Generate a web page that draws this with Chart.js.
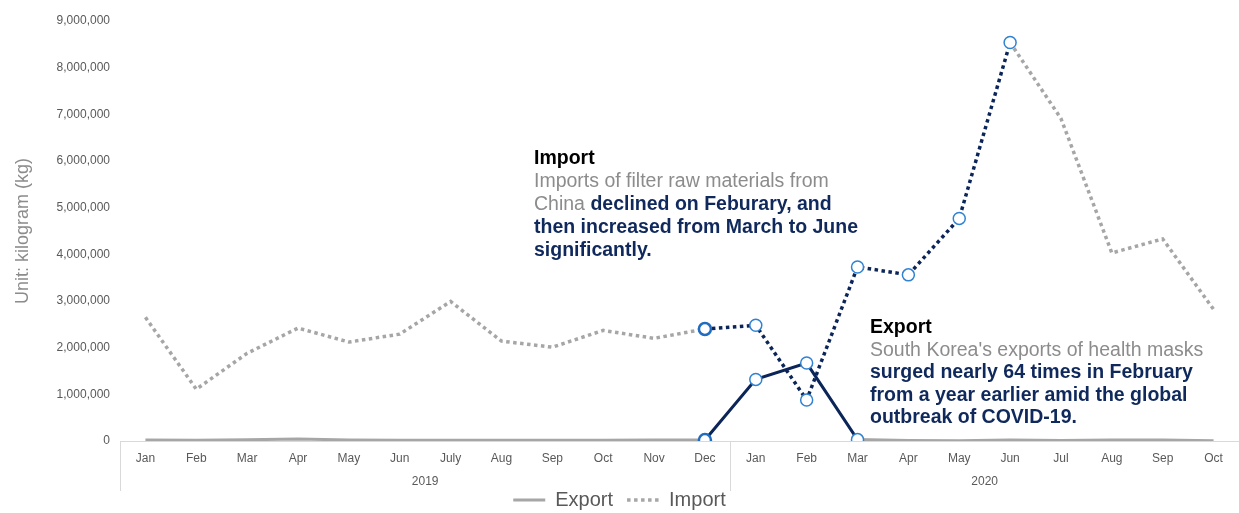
<!DOCTYPE html>
<html>
<head>
<meta charset="utf-8">
<script src="https://cdn.jsdelivr.net/npm/chart.js@4.4.1/dist/chart.umd.min.js"></script>
<style>
  html, body { margin: 0; padding: 0; background: #ffffff; }
  #wrap { position: relative; width: 1239px; height: 513px; }
  .note { position: absolute; font-family: "Liberation Sans", Arial, sans-serif; font-size: 19.5px; line-height: 23px; color: #8c8c8c; white-space: nowrap; }
  .note b { color: #10295c; }
  .note .head { color: #000000; font-weight: bold; }
</style>
</head>
<body>
<div id="wrap">
  <canvas id="chart" width="1239" height="513"></canvas>
  <div class="note" style="left:534px; top:146px;">
    <div class="head">Import</div>
    <div>Imports of filter raw materials from</div>
    <div>China <b>declined on Feburary, and</b></div>
    <div><b>then increased from March to June</b></div>
    <div><b>significantly.</b></div>
  </div>
  <div class="note" style="left:870px; top:315px; line-height:22.5px;">
    <div class="head">Export</div>
    <div>South Korea's exports of health masks</div>
    <div><b>surged nearly 64 times in February</b></div>
    <div><b>from a year earlier amid the global</b></div>
    <div><b>outbreak of COVID-19.</b></div>
  </div>
</div>
<script>
// 월 라벨 (2019 Jan ~ 2020 Oct)
const months = ["Jan", "Feb", "Mar", "Apr", "May", "Jun", "July", "Aug", "Sep", "Oct", "Nov", "Dec",
                "Jan", "Feb", "Mar", "Apr", "May", "Jun", "Jul", "Aug", "Sep", "Oct"];
const years = ["2019", "2020"];
const yearStart = [0, 12];
const yearEnd = [11, 21];

// 값 (kg)
const exportValues = [20000, 15000, 25000, 45000, 20000, 15000, 15000, 15000, 15000, 15000, 20000, 20000,
                      1320000, 1670000, 30000, 10000, 5000, 20000, 10000, 20000, 20000, 5000];
const importValues = [2650000, 1110000, 1880000, 2420000, 2120000, 2290000, 2990000, 2140000, 2010000, 2370000, 2200000, 2400000,
                      2480000, 880000, 3730000, 3560000, 4770000, 8540000, 6910000, 4030000, 4330000, 2820000];

// 강조 구간 (데이터 인덱스)
const exportHighlight = [11, 14];
const importHighlight = [11, 17];

const grey = "#a6a6a6";
const navy = "#0b2559";
const markerBlue = "#3083d2";

const inRange = (i, r) => i >= r[0] && i <= r[1];

// 연도 라벨 + 구분선
const yearPlugin = {
  id: "yearPlugin",
  afterDraw(chart) {
    const { ctx, chartArea, scales } = chart;
    const x = scales.x;
    const half = (x.getPixelForValue(1) - x.getPixelForValue(0)) / 2;
    ctx.save();
    ctx.strokeStyle = "#d9d9d9";
    ctx.lineWidth = 1;
    const seps = [x.getPixelForValue(0) - half, x.getPixelForValue(11) + half];
    seps.forEach(px => {
      ctx.beginPath();
      ctx.moveTo(Math.round(px) + 0.5, chartArea.bottom);
      ctx.lineTo(Math.round(px) + 0.5, chartArea.bottom + 50);
      ctx.stroke();
    });
    ctx.fillStyle = "#595959";
    ctx.font = "12px 'Liberation Sans', Arial, sans-serif";
    ctx.textAlign = "center";
    ctx.textBaseline = "middle";
    years.forEach((y, k) => {
      const cx = (x.getPixelForValue(yearStart[k]) + x.getPixelForValue(yearEnd[k])) / 2;
      ctx.fillText(y, cx, chartArea.bottom + 41);
    });
    ctx.restore();
  }
};

new Chart(document.getElementById("chart"), {
  type: "line",
  data: {
    labels: months,
    datasets: [
      {
        label: "Export",
        data: exportValues,
        borderColor: grey,
        borderWidth: 3,
        segment: {
          borderColor: c => (c.p0DataIndex >= exportHighlight[0] && c.p0DataIndex < exportHighlight[1]) ? navy : grey
        },
        pointRadius: months.map((m, i) => inRange(i, exportHighlight) ? 6 : 0),
        pointBackgroundColor: "#ffffff",
        pointBorderColor: months.map((m, i) => i === 11 ? "#1f6cc0" : markerBlue),
        pointBorderWidth: months.map((m, i) => i === 11 ? 2.5 : 1.5),
        pointHoverRadius: 0,
        tension: 0
      },
      {
        label: "Import",
        data: importValues,
        borderColor: grey,
        borderWidth: 3.5,
        borderDash: [3.5, 3.5],
        segment: {
          borderColor: c => (c.p0DataIndex >= importHighlight[0] && c.p0DataIndex < importHighlight[1]) ? navy : grey
        },
        pointRadius: months.map((m, i) => inRange(i, importHighlight) ? 6 : 0),
        pointBackgroundColor: "#ffffff",
        pointBorderColor: months.map((m, i) => i === 11 ? "#1f6cc0" : markerBlue),
        pointBorderWidth: months.map((m, i) => i === 11 ? 2.5 : 1.5),
        pointHoverRadius: 0,
        tension: 0
      }
    ]
  },
  options: {
    responsive: false,
    animation: false,
    layout: { padding: { top: 21, right: 0, left: 0, bottom: -7 } },
    plugins: {
      tooltip: { enabled: false },
      legend: {
        position: "bottom",
        labels: {
          usePointStyle: true,
          pointStyle: "line",
          pointStyleWidth: 32,
          padding: 14,
          color: "#595959",
          font: { family: "'Liberation Sans', Arial, sans-serif", size: 20 },
          generateLabels: chart => chart.data.datasets.map((d, i) => ({
            text: d.label,
            fillStyle: "rgba(0,0,0,0)",
            strokeStyle: grey,
            lineWidth: d.borderWidth,
            lineDash: d.borderDash || [],
            pointStyle: "line",
            fontColor: "#595959",
            hidden: false,
            datasetIndex: i
          }))
        }
      }
    },
    scales: {
      x: {
        offset: true,
        grid: { display: false, drawTicks: false },
        border: { display: true, color: "#d9d9d9" },
        ticks: {
          color: "#595959",
          padding: 10,
          maxRotation: 0,
          autoSkip: false,
          font: { family: "'Liberation Sans', Arial, sans-serif", size: 12 }
        },
        afterFit: s => { s.height = 35; }
      },
      y: {
        min: 0,
        max: 9000000,
        grid: { display: false, drawTicks: false },
        border: { display: false },
        ticks: {
          stepSize: 1000000,
          color: "#595959",
          padding: 10,
          font: { family: "'Liberation Sans', Arial, sans-serif", size: 12 },
          callback: v => v.toLocaleString("en-US")
        },
        title: {
          display: true,
          text: "Unit: kilogram (kg)",
          color: "#8c8c8c",
          padding: { top: 12, bottom: 0 },
          font: { family: "'Liberation Sans', Arial, sans-serif", size: 18 }
        },
        afterFit: s => { s.width = 120; }
      }
    }
  },
  plugins: [yearPlugin]
});
</script>
</body>
</html>
